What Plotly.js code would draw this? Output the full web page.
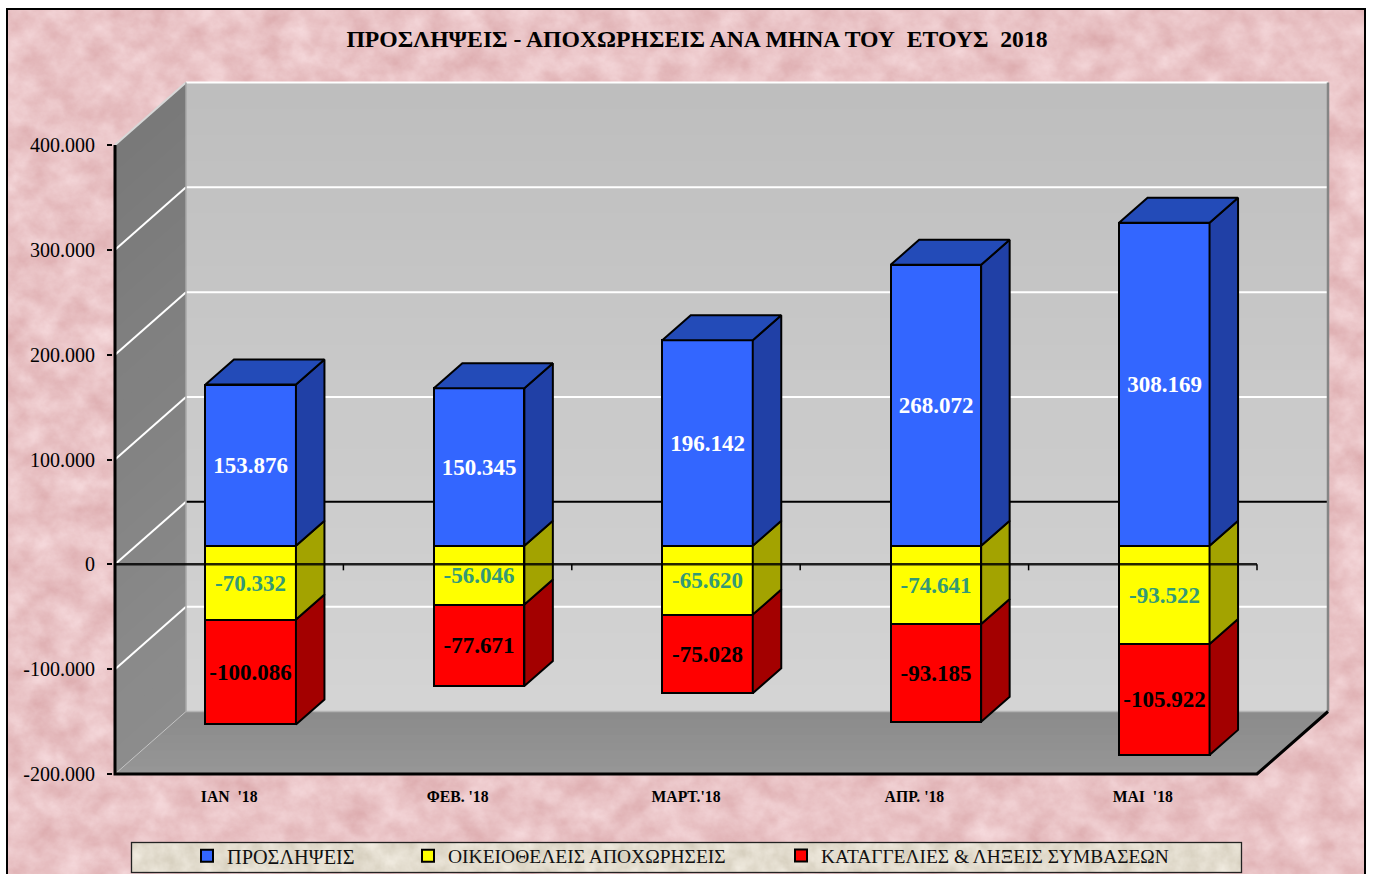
<!DOCTYPE html>
<html><head><meta charset="utf-8">
<script src="https://cdn.plot.ly/plotly-3.0.1.min.js"></script>
<style>
html,body{margin:0;padding:0;background:#fff;overflow:hidden;width:1373px;height:874px}
#tex{position:absolute;left:0;top:0}
#plot{position:absolute;left:0;top:0;width:1373px;height:874px}
</style></head><body>
<svg id="tex" width="1373" height="874" xmlns="http://www.w3.org/2000/svg">
<defs>
<filter id="pink" x="0" y="0" width="100%" height="100%" color-interpolation-filters="sRGB">
<feTurbulence type="fractalNoise" baseFrequency="0.035 0.04" numOctaves="5" seed="7"/>
<feColorMatrix type="matrix" values="0.12 0 0 0 0.855  0.22 0 0 0 0.655  0.22 0 0 0 0.665  0 0 0 0 1"/>
</filter>
<filter id="beige" x="0" y="0" width="100%" height="100%" color-interpolation-filters="sRGB">
<feTurbulence type="fractalNoise" baseFrequency="0.06" numOctaves="4" seed="3"/>
<feColorMatrix type="matrix" values="0.14 0 0 0 0.82  0.15 0 0 0 0.79  0.18 0 0 0 0.72  0 0 0 0 1"/>
</filter>
</defs>
<rect x="7" y="9" width="1358" height="870" filter="url(#pink)"/>
<rect x="7" y="9" width="1358" height="870" fill="none" stroke="#000" stroke-width="2"/>
<rect x="131.5" y="842.5" width="1110" height="30" filter="url(#beige)"/>
<rect x="131.5" y="842.5" width="1110" height="30" fill="none" stroke="#222" stroke-width="1.3"/>
</svg>
<div id="plot"></div>
<script>
// ---- data ----
const months = ["ΙΑΝ  '18", "ΦΕΒ. '18", "ΜΑΡΤ.'18", "ΑΠΡ. '18", "ΜΑΙ  '18"];
const hires = [153876, 150345, 196142, 268072, 308169];
const voluntary = [-70332, -56046, -65620, -74641, -93522];
const terminations = [-100086, -77671, -75028, -93185, -105922];
const yTickVals = [400000, 300000, 200000, 100000, 0, -100000, -200000];
const yTickText = ["400.000", "300.000", "200.000", "100.000", "0", "-100.000", "-200.000"];
const seriesNames = ["ΠΡΟΣΛΗΨΕΙΣ", "ΟΙΚΕΙΟΘΕΛΕΙΣ ΑΠΟΧΩΡΗΣΕΙΣ", "ΚΑΤΑΓΓΕΛΙΕΣ & ΛΗΞΕΙΣ ΣΥΜΒΑΣΕΩΝ"];

// ---- geometry: one month = pxX pixels, one unit = pxY pixels ----
const pxX = 228.4, pxY = 629 / 600000;
const frameL = 115, frameB = 774, pad = 2;
const L = frameL - pad, B = frameB + pad + 1, R = 1338, T = 75, W = 1373, H = 874;
const ux = p => p / pxX, uy = p => p / pxY;
const wallDX = ux(71), wallDY = uy(62.5);    // depth of the chart box
const barDX = ux(28.5), barDY = uy(25);      // depth of a bar
const offX = ux(21.5), offY = uy(18.5);      // bar front plane relative to axis plane
const barW = ux(90.5);
const yMin = -200000, yMax = 400000, nCat = months.length;
const fmt = v => (v < 0 ? "-" : "") + Math.abs(v).toString().replace(/\B(?=(\d{3})+$)/g, ".");
const font = "Liberation Serif";

// ---- walls and floor as shapes below the bars ----
const shapes = [];
const poly = (pts, fill) => shapes.push({type: "path", xref: "x", yref: "y", layer: "below",
  path: "M" + pts.map(p => p[0] + "," + p[1]).join("L") + "Z", fillcolor: fill, line: {width: 0}});
const seg = (x0, y0, x1, y1, c, w) => shapes.push({type: "line", xref: "x", yref: "y", layer: "below",
  x0, y0, x1, y1, line: {color: c, width: w}});
const mix = (a, b, t) => { const v = Math.round(a + (b - a) * t); return `rgb(${v},${v},${v})`; };
const N = 24, xB0 = wallDX, xB1 = nCat + wallDX;
for (let i = 0; i < N; i++) {
  const t = i / N, yt = yMax + (yMin - yMax) * t;
  poly([[xB0, yt + wallDY], [xB1, yt + wallDY], [xB1, yMin + wallDY], [xB0, yMin + wallDY]], mix(190, 213, t));
  poly([[0, yt], [xB0, yt + wallDY], [xB0, yMin + wallDY], [0, yMin]], mix(121, 141, t));
}
for (let i = 0; i < 8; i++) {
  const t = i / 8;
  poly([[wallDX * (1 - t), yMin + wallDY * (1 - t)], [nCat + wallDX * (1 - t), yMin + wallDY * (1 - t)], [nCat, yMin], [0, yMin]], mix(139, 151, t));
}
yTickVals.forEach(v => {
  if (v === yMin) return;
  const edge = (v === 400000);
  seg(0, v, xB0, v + wallDY, edge ? "#d8d8d8" : "#ffffff", 2);
  seg(xB0, v + wallDY, xB1, v + wallDY, v === 0 ? "#000000" : "#ffffff", 2);
});
seg(0, yMin, xB0, yMin + wallDY, "#c4c4c4", 1);
seg(xB0, yMin + wallDY, xB1, yMin + wallDY, "#b4b4b4", 1.5);
seg(xB0, yMin + wallDY, xB0, yMax + wallDY, "#a8a8a8", 1.5);
seg(xB1, yMin + wallDY, xB1, yMax + wallDY, "#858585", 2.5);

// ---- traces ----
const cx = months.map((_, i) => i + 0.5 + offX);
const barLine = {color: "#000", width: 2};
const barTrace = (idx, y, base, color, tcolor, legend) => ({
  type: "bar", name: seriesNames[idx], x: cx, y, base, width: barW, legend,
  marker: {color, line: barLine},
  text: y.map(fmt), textposition: "inside", insidetextanchor: "middle", textangle: 0, constraintext: "none",
  textfont: {family: font, size: 23, color: tcolor, weight: "bold"}, hoverinfo: "name+text"
});
const baseZero = months.map(() => offY);
const baseRed = voluntary.map(v => v + offY);
const traces = [
  barTrace(0, hires, baseZero, "#3366ff", "#ffffff", "legend"),
  barTrace(1, voluntary, baseZero, "#ffff00", "#339977", "legend2"),
  barTrace(2, terminations, baseRed, "#ff0000", "#000000", "legend3")
];
const face = (pts, color) => ({type: "scatter", mode: "lines", x: pts.map(p => p[0]), y: pts.map(p => p[1]),
  fill: "toself", fillcolor: color, line: {color: "#000", width: 2}, showlegend: false, hoverinfo: "skip"});
months.forEach((_, i) => {
  const x1 = cx[i] + barW / 2, x0 = cx[i] - barW / 2;
  const side = (a, b, c) => face([[x1, a], [x1 + barDX, a + barDY], [x1 + barDX, b + barDY], [x1, b], [x1, a]], c);
  const top = offY + hires[i], mid = offY, low = offY + voluntary[i], bot = low + terminations[i];
  traces.push(side(low, bot, "#a30000"));
  traces.push(side(mid, low, "#a3a300"));
  traces.push(side(top, mid, "#2040a6"));
  traces.push(face([[x0, top], [x0 + barDX, top + barDY], [x1 + barDX, top + barDY], [x1, top], [x0, top]], "#234bb8"));
});
// axis plane: frame, zero line and its tick marks
const frameX = [0, 0, nCat, nCat + wallDX], frameY = [yMax, yMin, yMin, yMin + wallDY];
traces.push({type: "scatter", mode: "lines", x: frameX, y: frameY,
  line: {color: "#000", width: 3}, showlegend: false, hoverinfo: "skip"});
const zx = [0, nCat], zy = [0, 0];
traces.push({type: "scatter", mode: "lines", x: zx, y: zy, line: {color: "rgba(0,0,0,0.85)", width: 2.5}, showlegend: false, hoverinfo: "skip"});
const tkx = [], tky = [];
for (let i = 1; i <= nCat; i++) tkx.push(i, i, null), tky.push(0, uy(-6), null);
traces.push({type: "scatter", mode: "lines", x: tkx, y: tky, line: {color: "#000", width: 1.5}, showlegend: false, hoverinfo: "skip"});

const mkLegend = (px, size) => ({xref: "container", yref: "container", x: px / W, y: 1 - 856 / H, xanchor: "left", yanchor: "middle",
  bgcolor: "rgba(0,0,0,0)", borderwidth: 0, font: {family: font, size, color: "#111"}, itemwidth: 30, itemclick: false, itemdoubleclick: false});

const layout = {
  width: W, height: H, autosize: false,
  margin: {l: L, r: W - R, t: T, b: H - B, pad: 0, autoexpand: false},
  paper_bgcolor: "rgba(0,0,0,0)", plot_bgcolor: "rgba(0,0,0,0)",
  barmode: "overlay", bargap: 0, showlegend: true,
  title: {text: "ΠΡΟΣΛΗΨΕΙΣ - ΑΠΟΧΩΡΗΣΕΙΣ ΑΝΑ ΜΗΝΑ ΤΟΥ\u00a0\u00a0ΕΤΟΥΣ\u00a0\u00a02018", xref: "container", yref: "container",
    x: 697 / W, xanchor: "center", y: 1 - 39 / H, yanchor: "middle",
    font: {family: font, size: 23.7, color: "#000", weight: "bold"}},
  xaxis: {range: [-(frameL - L) / pxX, (R - frameL) / pxX], tickmode: "array", tickvals: months.map((_, i) => i + 0.5),
    ticktext: months.map(m => m.replace(/ /g, "\u00a0")), ticks: "", showgrid: false, zeroline: false, showline: false,
    tickangle: 0, automargin: false, tickfont: {family: font, size: 15.7, color: "#000", weight: "bold"}, ticklabelstandoff: 8, fixedrange: true},
  yaxis: {range: [yMin - (B - frameB) / pxY, yMin + (frameB - T) / pxY], tickmode: "array", tickvals: yTickVals, ticktext: yTickText,
    ticks: "outside", ticklen: 5, tickwidth: 1.5, tickcolor: "#000", showgrid: false, zeroline: false, showline: false,
    automargin: false, tickfont: {family: font, size: 20, color: "#000"}, ticklabelstandoff: 8, fixedrange: true},
  legend: mkLegend(187, 20.3), legend2: mkLegend(408, 19.5), legend3: mkLegend(781, 19.4),
  shapes,
  hovermode: "closest"
};
Plotly.newPlot("plot", traces, layout, {displayModeBar: false, responsive: false});
</script>
</body></html>
